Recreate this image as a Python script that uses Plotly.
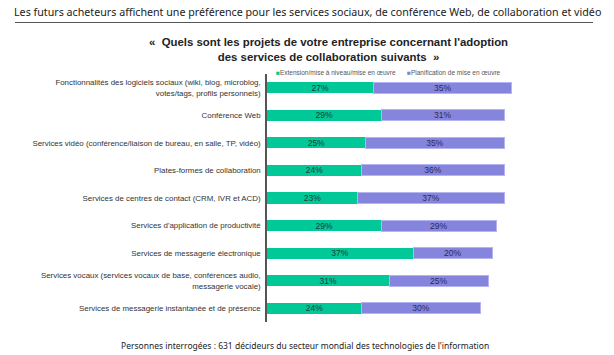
import plotly.graph_objects as go

categories = [
    "Fonctionnalités des logiciels sociaux (wiki, blog, microblog,<br>votes/tags, profils personnels)",
    "Conférence Web",
    "Services vidéo (conférence/liaison de bureau, en salle, TP, vidéo)",
    "Plates-formes de collaboration",
    "Services de centres de contact (CRM, IVR et ACD)",
    "Services d'application de productivité",
    "Services de messagerie électronique",
    "Services vocaux (services vocaux de base, conférences audio,<br>messagerie vocale)",
    "Services de messagerie instantanée et de présence",
]
extension = [27, 29, 25, 24, 23, 29, 37, 31, 24]
planification = [35, 31, 35, 36, 37, 29, 20, 25, 30]
series_names = ["Extension/mise à niveau/mise en œuvre", "Planification de mise en œuvre"]

W, H = 614, 355
GREEN = "#00C896"
PURPLE = "#8585DD"

fig = go.Figure()
fig.add_trace(go.Bar(
    y=categories, x=extension, orientation="h", name=series_names[0],
    marker=dict(color=GREEN, line=dict(width=0)),
    text=[f"{v}%" for v in extension], textposition="inside", insidetextanchor="middle",
    insidetextfont=dict(family="Liberation Sans, Arial", size=8.5, color="#1d3d36"),
    textangle=0, width=0.4, showlegend=False,
))
fig.add_trace(go.Bar(
    y=categories, x=planification, orientation="h", name=series_names[1],
    marker=dict(color=PURPLE, line=dict(width=1, color="#b4b4f0")),
    text=[f"{v}%" for v in planification], textposition="inside", insidetextanchor="middle",
    insidetextfont=dict(family="Liberation Sans, Arial", size=8.5, color="#2a2a5a"),
    textangle=0, width=0.4, showlegend=False,
))

fig.update_layout(
    width=W, height=H, barmode="stack",
    margin=dict(l=0, r=0, t=0, b=0),
    paper_bgcolor="white", plot_bgcolor="white",
    font=dict(family="Liberation Sans, Arial", color="#333333"),
    xaxis=dict(domain=[267 / W, 1], range=[0, (W - 267) / 3.95], visible=False),
    yaxis=dict(domain=[1 - 322 / H, 1 - 74 / H], autorange="reversed",
               showline=True, linecolor="#555555", linewidth=1.5,
               ticks="", showgrid=False, ticklabelstandoff=3,
               tickfont=dict(family="Liberation Sans, Arial", size=7.9, color="#333333")),
    uniformtext=dict(mode="show", minsize=6),
)

# header
fig.add_annotation(x=12 / W, y=1 - 12 / H, xref="paper", yref="paper", xanchor="left", yanchor="middle",
                   text="Les futurs acheteurs affichent une préférence pour les services sociaux, de conférence Web, de collaboration et vidéo",
                   showarrow=False, font=dict(family="Noto Sans", size=10.7, color="#222222"))
fig.add_shape(type="line", xref="paper", yref="paper", x0=15 / W, x1=593 / W, y0=1 - 22.5 / H, y1=1 - 22.5 / H,
              line=dict(color="#555555", width=1))
# chart title
fig.add_annotation(x=328 / W, y=1 - 49 / H, xref="paper", yref="paper", xanchor="center", yanchor="middle",
                   text="<b>«  Quels sont les projets de votre entreprise concernant l'adoption<br>des services de collaboration suivants  »</b>",
                   showarrow=False, align="center",
                   font=dict(family="Liberation Sans, Arial", size=11.4, color="#222222"))
# legend
fig.add_annotation(x=274 / W, y=1 - 73 / H, xref="paper", yref="paper", xanchor="left", yanchor="middle",
                   text=f"<span style='color:{GREEN}'>■</span>{series_names[0]}",
                   showarrow=False, font=dict(family="Liberation Sans, Arial", size=6.5, color="#555555"))
fig.add_annotation(x=405 / W, y=1 - 73 / H, xref="paper", yref="paper", xanchor="left", yanchor="middle",
                   text=f"<span style='color:{PURPLE}'>■</span>{series_names[1]}",
                   showarrow=False, font=dict(family="Liberation Sans, Arial", size=6.5, color="#555555"))
# footer
fig.add_annotation(x=305 / W, y=1 - 345 / H, xref="paper", yref="paper", xanchor="center", yanchor="middle",
                   text="Personnes interrogées : 631 décideurs du secteur mondial des technologies de l'information",
                   showarrow=False, font=dict(family="Noto Sans", size=8.5, color="#222222"))

fig.write_html("out.html", config={"displayModeBar": False},
               post_script="document.body.style.margin='0';document.body.style.overflow='hidden';")
